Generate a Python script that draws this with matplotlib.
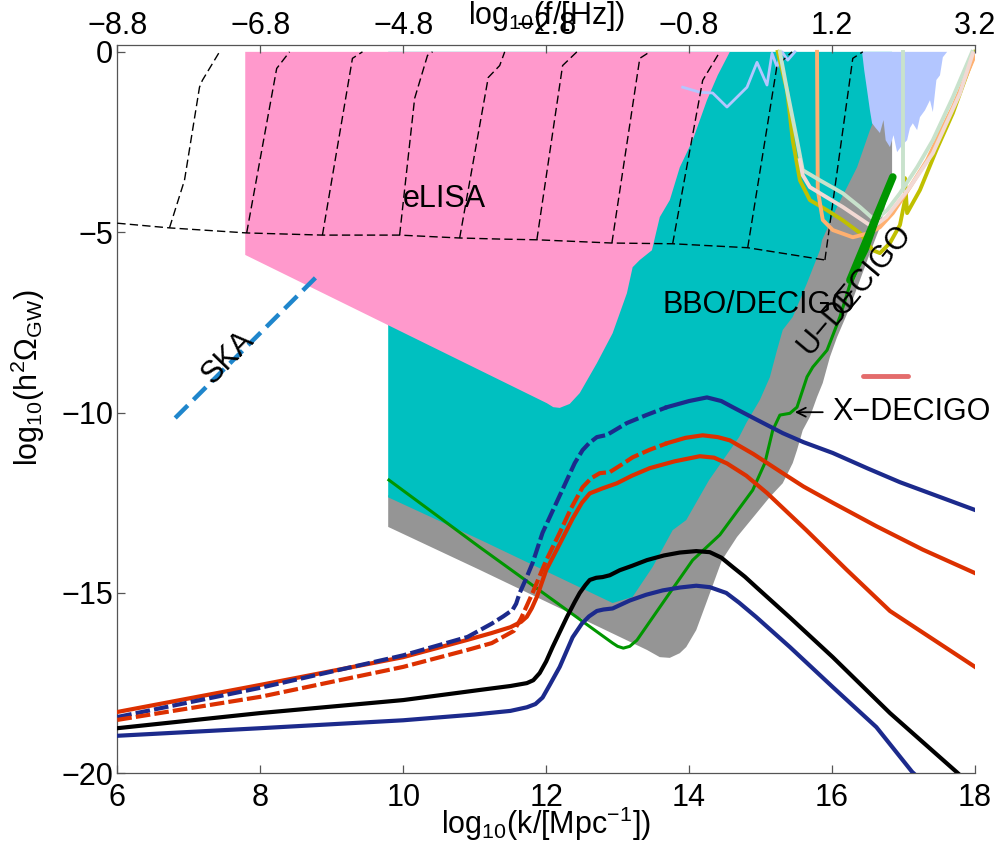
import numpy as np
import matplotlib
matplotlib.use('Agg')
import matplotlib.pyplot as plt
from matplotlib.patches import Polygon

plt.rcParams['font.family'] = ['Liberation Sans', 'DejaVu Sans']
plt.rcParams['mathtext.fontset'] = 'custom'
plt.rcParams['mathtext.rm'] = 'Liberation Sans'
plt.rcParams['mathtext.it'] = 'Liberation Sans'
plt.rcParams['mathtext.default'] = 'regular'
plt.rcParams['axes.unicode_minus'] = True

# ---------------- data ----------------
k_ticks = [6, 8, 10, 12, 14, 16, 18]
y_ticks = [0, -5, -10, -15, -20]
f_tick_labels = [-8.8, -6.8, -4.8, -2.8, -0.8, 1.2, 3.2]

# eLISA region
elisa_k = [7.79, 7.79, 12.01, 12.10, 12.19, 12.33, 12.47, 12.71, 12.93, 13.13, 13.21, 13.31,
           13.48, 13.59, 13.73, 13.87, 14.05, 14.25, 14.40, 14.57]
elisa_y = [0.0, -5.63, -9.74, -9.85, -9.87, -9.76, -9.46, -8.63, -7.80, -6.69, -5.97, -5.77,
           -5.50, -4.58, -4.11, -3.20, -2.45, -1.34, -0.65, 0.0]

# BBO/DECIGO region
bbo_k = [9.79, 9.79, 11.08, 12.93, 13.21, 13.49, 13.77, 13.96, 14.28, 14.70, 14.80, 14.99, 15.13,
         15.23, 15.31, 15.45, 15.65, 15.83, 15.86, 16.07, 16.35, 16.53, 16.84, 16.84]
bbo_y = [0.0, -12.35, -13.53, -15.28, -15.11, -14.28, -13.26, -12.98, -11.87, -10.68, -10.29, -9.65,
         -9.02, -8.27, -7.71, -7.35, -6.41, -5.50, -5.22, -4.30, -3.20, -2.17, -0.65, 0.0]

# U-DECIGO region
udecigo_k = [9.79, 9.79, 11.08, 13.41, 13.59, 13.73, 13.87, 13.96, 14.10, 14.24, 14.46, 14.67, 14.89,
             15.13, 15.31, 15.45, 15.51, 15.59, 15.69, 15.79, 15.87, 15.97, 16.07, 16.25, 16.39,
             16.53, 16.67, 16.84, 16.84]
udecigo_y = [-12.30, -13.17, -14.37, -16.58, -16.78, -16.80, -16.67, -16.50, -16.03, -15.28, -14.09,
             -13.45, -12.92, -12.34, -11.96, -11.40, -11.04, -10.49, -10.12, -9.57, -9.18, -8.46,
             -7.91, -7.08, -6.33, -5.58, -4.86, -3.47, -0.65]

# dashed contours
contour_h_k = [6.00, 6.73, 7.81, 8.87, 9.95, 10.79, 11.35, 11.87, 12.92, 13.77, 14.82, 15.90]
contour_h_y = [-4.75, -4.88, -5.02, -5.08, -5.08, -5.16, -5.19, -5.21, -5.30, -5.32, -5.43, -5.77]
contour_v_k = [[6.73, 6.94, 7.15, 7.19, 7.43], [7.81, 8.23, 8.41], [8.87, 9.29, 9.43],
               [9.95, 10.16, 10.34, 10.41], [10.79, 11.19, 11.35, 11.42], [11.87, 12.23, 12.43],
               [12.92, 13.31, 13.45], [13.77, 14.19, 14.43], [14.82, 15.23, 15.44],
               [15.90, 16.29, 16.43]]
contour_v_y = [[-4.88, -3.56, -0.98, -0.79, 0.0], [-5.02, -0.46, 0.0], [-5.08, -0.18, 0.0],
               [-5.08, -1.29, -0.10, 0.0], [-5.16, -0.71, -0.38, 0.0], [-5.21, -0.38, 0.0],
               [-5.30, -0.18, 0.0], [-5.32, -0.79, 0.0], [-5.43, -0.38, 0.0],
               [-5.77, -0.18, 0.0]]

# lavender ground-based noise
lav_line_k = [13.91, 14.15, 14.33, 14.53, 14.81, 14.95, 15.09, 15.16, 15.23, 15.30, 15.38, 15.48]
lav_line_y = [-0.98, -1.12, -1.14, -1.53, -0.98, -0.29, -0.92, -0.04, -0.42, 0.0, -0.23, 0.0]
lav_fill_k = [16.42, 16.45, 16.49, 16.53, 16.56, 16.61, 16.67, 16.72, 16.75, 16.81, 16.86, 16.91,
              16.98, 17.05, 17.09, 17.13, 17.19, 17.23, 17.30, 17.37, 17.41, 17.46, 17.51, 17.55, 17.61]
lav_fill_y = [0.0, -0.51, -1.06, -1.62, -1.98, -2.11, -2.25, -1.89, -2.45, -2.64, -2.31, -2.78,
              -2.59, -2.45, -2.11, -1.98, -2.17, -1.81, -1.62, -1.34, -1.67, -0.78, -0.65, -0.15, 0.0]

# other sensitivity curves
olive_k = [15.24, 15.37, 15.45, 15.55, 15.69, 15.93, 16.15, 16.39, 16.57, 16.67, 16.81, 16.95,
           17.02, 17.02, 17.05, 17.23, 17.46, 17.69, 18.0]
olive_y = [0.0, -1.06, -2.45, -3.56, -4.11, -4.39, -4.67, -5.02, -5.50, -5.58, -5.30, -4.80,
           -4.11, -3.50, -4.47, -3.83, -2.72, -1.70, 0.0]
orange_k = [15.79, 15.80, 15.87, 16.01, 16.29, 16.53, 16.67, 16.85, 17.09, 17.33, 17.51, 17.69, 18.0]
orange_y = [0.0, -3.83, -4.66, -4.94, -5.14, -5.02, -4.86, -4.47, -3.75, -3.00, -2.25, -1.53, -0.09]
mint_k = [15.27, 15.37, 15.51, 15.59, 15.83, 16.15, 16.39, 16.60, 16.77, 16.95, 17.19, 17.41, 17.69, 17.96]
mint_y = [0.0, -1.06, -2.45, -3.28, -3.56, -3.92, -4.30, -4.67, -4.39, -3.92, -3.20, -2.45, -1.26, 0.0]
mint_v_k = [16.99, 16.99]
mint_v_y = [0.0, -3.83]
pale_k = [15.55, 15.59, 15.69, 16.15, 16.57, 16.76, 17.09, 17.41, 17.79, 17.97]
pale_y = [-3.00, -3.42, -3.75, -4.30, -4.86, -4.58, -3.75, -2.81, -1.15, -0.04]

# X-DECIGO (green)
xdec_k = [9.80, 11.07, 12.93, 13.00, 13.08, 13.17, 13.27, 13.69, 14.05, 14.43, 14.89, 15.06, 15.17,
          15.27, 15.41, 15.51, 15.59, 15.65, 15.73, 15.93, 16.11, 16.25, 16.49, 16.85]
xdec_y = [-11.87, -13.73, -16.39, -16.48, -16.53, -16.48, -16.31, -15.11, -14.09, -13.39, -12.15,
          -11.40, -10.49, -10.07, -10.02, -9.85, -9.37, -9.01, -8.74, -8.27, -7.35, -6.45, -5.50, -3.48]
xdec_thick_k = [16.25, 16.85]
xdec_thick_y = [-6.33, -3.47]

# SKA
ska_k = [6.81, 8.81]
ska_y = [-10.15, -6.19]
# red marker segment
red_seg_k = [16.43, 17.06]
red_seg_y = [-8.99, -8.99]

# model spectra
blue_lo_k = [6.0, 8.0, 10.0, 11.0, 11.5, 11.73, 11.85, 11.95, 12.05, 12.19, 12.37, 12.50, 12.60,
             12.71, 12.80, 12.93, 13.17, 13.40, 13.63, 13.87, 14.10, 14.29, 14.52, 14.70, 14.94,
             15.41, 16.01, 16.62, 17.12, 17.25]
blue_lo_y = [-18.96, -18.75, -18.53, -18.37, -18.27, -18.17, -18.08, -17.90, -17.55, -17.05, -16.23,
             -15.85, -15.65, -15.50, -15.46, -15.43, -15.21, -15.05, -14.93, -14.85, -14.80, -14.84,
             -15.00, -15.27, -15.67, -16.50, -17.61, -18.72, -19.96, -20.20]
black_k = [6.0, 8.0, 10.0, 11.07, 11.50, 11.73, 11.82, 11.91, 12.00, 12.09, 12.29, 12.40, 12.47,
           12.55, 12.61, 12.70, 12.79, 12.89, 13.03, 13.20, 13.41, 13.65, 13.87, 14.10, 14.29,
           14.45, 14.61, 14.78, 14.94, 15.41, 16.01, 16.81, 17.74, 17.90]
black_y = [-18.75, -18.33, -17.97, -17.69, -17.58, -17.50, -17.42, -17.22, -16.90, -16.50, -15.67,
           -15.25, -15.00, -14.78, -14.64, -14.58, -14.56, -14.51, -14.37, -14.25, -14.09, -13.96,
           -13.88, -13.84, -13.87, -14.02, -14.28, -14.55, -14.84, -15.68, -16.78, -18.33, -19.96,
           -20.25]
blue_hi_k = [6.0, 8.0, 10.0, 10.9, 11.24, 11.40, 11.53, 11.58, 11.63, 11.72, 11.81, 11.95, 12.12,
             12.29, 12.40, 12.51, 12.60, 12.71, 12.85, 13.13, 13.40, 13.69, 14.00, 14.25, 14.45,
             14.61, 14.90, 15.31, 15.60, 16.01, 16.50, 16.95, 18.0]
blue_hi_y = [-18.44, -17.63, -16.73, -16.22, -15.85, -15.65, -15.47, -15.30, -15.00, -14.60, -14.17,
             -13.33, -12.60, -11.87, -11.40, -11.04, -10.85, -10.68, -10.62, -10.29, -10.07, -9.85,
             -9.68, -9.58, -9.68, -9.85, -10.15, -10.57, -10.82, -11.12, -11.55, -11.93, -12.70]
red_hi_k = [6.0, 8.0, 10.0, 10.9, 11.24, 11.55, 11.65, 11.73, 11.81, 12.00, 12.19, 12.35, 12.51,
            12.63, 12.75, 12.89, 13.05, 13.21, 13.45, 13.69, 13.95, 14.19, 14.40, 14.57, 14.90,
            15.31, 15.60, 16.01, 16.62, 17.27, 18.0]
red_hi_y = [-18.52, -17.88, -17.05, -16.58, -16.39, -16.05, -15.70, -15.35, -15.00, -14.10, -13.33,
            -12.65, -12.07, -11.82, -11.68, -11.65, -11.45, -11.24, -11.03, -10.85, -10.70, -10.63,
            -10.68, -10.77, -11.15, -11.68, -12.05, -12.50, -13.15, -13.80, -14.45]
red_lo_k = [6.0, 8.0, 10.0, 10.9, 11.24, 11.50, 11.65, 11.73, 11.80, 11.87, 12.00, 12.19, 12.37,
            12.50, 12.61, 12.79, 12.99, 13.20, 13.45, 13.80, 14.15, 14.35, 14.53, 14.80, 15.09,
            15.64, 16.20, 16.81, 18.0]
red_lo_y = [-18.30, -17.55, -16.78, -16.30, -16.11, -15.95, -15.80, -15.66, -15.42, -15.11, -14.37,
            -13.64, -12.94, -12.50, -12.24, -12.10, -11.96, -11.75, -11.54, -11.35, -11.21, -11.25,
            -11.41, -11.75, -12.23, -13.26, -14.35, -15.50, -17.05]
dash_end_k = 13.69

# ---------------- colours ----------------
c_pink = '#FF99CC'
c_teal = '#00C0C0'
c_gray = '#959595'
c_lav = '#B3C6FF'
c_navy = '#1C2A8C'
c_red = '#DC3000'
c_green = '#009600'
c_olive = '#C0C000'
c_orange = '#FFB070'
c_mint = '#C8E2CC'
c_pale = '#F2D9D4'
c_ska = '#1F86CC'

# ---------------- figure ----------------
fig = plt.figure(figsize=(10.01, 8.47), dpi=100)
ax = fig.add_axes([117.3 / 1001, 1 - 773.3 / 847, (975 - 117.3) / 1001, (773.3 - 45) / 847])
ax.set_xlim(6, 18)
ax.set_ylim(-20, 0.19)

ax.add_patch(Polygon(np.column_stack([udecigo_k, udecigo_y]), closed=True, fc=c_gray, ec='none', zorder=1))
ax.add_patch(Polygon(np.column_stack([bbo_k, bbo_y]), closed=True, fc=c_teal, ec='none', zorder=2))
ax.add_patch(Polygon(np.column_stack([elisa_k, elisa_y]), closed=True, fc=c_pink, ec='none', zorder=3))
ax.add_patch(Polygon(np.column_stack([lav_fill_k, lav_fill_y]), closed=True, fc=c_lav, ec='none', zorder=4))
ax.plot(lav_line_k, lav_line_y, color=c_lav, lw=2.0, zorder=4)

dash_kw = dict(color='k', lw=1.0, dashes=(6, 3), zorder=5)
ax.plot(contour_h_k, contour_h_y, **dash_kw)
for kk, yy in zip(contour_v_k, contour_v_y):
    ax.plot(kk, yy, **dash_kw)

ax.plot(olive_k, olive_y, color=c_olive, lw=2.8, zorder=6)
ax.plot(orange_k, orange_y, color=c_orange, lw=2.8, zorder=6)
ax.plot(mint_k, mint_y, color=c_mint, lw=2.8, zorder=6)
ax.plot(mint_v_k, mint_v_y, color=c_mint, lw=2.8, zorder=6)
ax.plot(pale_k, pale_y, color=c_pale, lw=2.8, zorder=6)

ax.plot(xdec_k, xdec_y, color=c_green, lw=2.2, zorder=7)
ax.plot(xdec_thick_k, xdec_thick_y, color=c_green, lw=5.5, solid_capstyle='round', zorder=7)

ax.plot(ska_k, ska_y, color=c_ska, lw=3.2, dashes=(4, 1.8), zorder=7)
ax.plot(red_seg_k, red_seg_y, color='#E46C6C', lw=3.5, solid_capstyle='round', zorder=7)

lw_m = 3.0
ax.plot(blue_lo_k, blue_lo_y, color=c_navy, lw=lw_m, zorder=8)
ax.plot(black_k, black_y, color='k', lw=lw_m, zorder=8)
ax.plot(red_lo_k, red_lo_y, color=c_red, lw=lw_m, zorder=8)
for kk, yy, cc in [(blue_hi_k, blue_hi_y, c_navy), (red_hi_k, red_hi_y, c_red)]:
    kk = np.asarray(kk)
    yy = np.asarray(yy)
    m1 = kk <= dash_end_k
    m2 = kk >= dash_end_k
    ax.plot(kk[m1], yy[m1], color=cc, lw=lw_m, dashes=(3.5, 1.0), zorder=8)
    ax.plot(kk[m2], yy[m2], color=cc, lw=lw_m, zorder=8)

fs = 22
ax.text(10.58, -4.30, 'eLISA', fontsize=fs, ha='center', va='baseline', zorder=10)
ax.text(13.63, -7.24, 'BBO/DECIGO', fontsize=fs, ha='left', va='baseline', zorder=10)
ax.text(16.32, -6.6, 'U\u2212DECIGO', fontsize=fs, ha='center', va='center', rotation=50,
        rotation_mode='anchor', zorder=10)
ax.text(7.55, -8.46, 'SKA', fontsize=fs, ha='center', va='center', rotation=46,
        rotation_mode='anchor', zorder=10)
ax.annotate('', xy=(15.48, -9.99), xytext=(15.87, -9.99),
            arrowprops=dict(arrowstyle='->', lw=1.3, color='k', shrinkA=0, shrinkB=0,
                            mutation_scale=16), zorder=10)
ax.text(16.01, -10.21, 'X\u2212DECIGO', fontsize=fs, ha='left', va='baseline', zorder=10,
        clip_on=False)

# axes styling
spine_c = '#555555'
for s in ['left', 'bottom', 'top']:
    ax.spines[s].set_color(spine_c)
    ax.spines[s].set_linewidth(0.9)
ax.spines['right'].set_visible(False)
ax.set_xticks(k_ticks)
ax.set_xticklabels([str(v) for v in k_ticks])
ax.set_yticks(y_ticks)
ax.set_yticklabels([str(v).replace('-', '\u2212') for v in y_ticks])
ax.tick_params(axis='both', direction='in', length=6, width=0.9, color=spine_c, labelsize=fs)
ax.tick_params(axis='x', pad=7)
ax.tick_params(axis='y', pad=3)

ax2 = ax.twiny()
ax2.set_xlim(ax.get_xlim())
ax2.set_xticks(k_ticks)
ax2.set_xticklabels([('%.1f' % v).replace('-', '\u2212') for v in f_tick_labels])
ax2.tick_params(axis='x', direction='in', length=6, width=0.9, color=spine_c, labelsize=fs, pad=3)
for s in ['left', 'bottom', 'top', 'right']:
    ax2.spines[s].set_visible(False)

ax.set_xlabel('log$_{10}$(k/[Mpc$^{-1}$])', fontsize=fs, labelpad=-6)
ax.set_ylabel('log$_{10}$(h$^2$\u03a9$_{GW}$)', fontsize=fs)
ax.yaxis.set_label_coords(-0.082, 0.543)
fig.text(547 / 1001, 1 - 24 / 847, 'log$_{10}$(f/[Hz])', fontsize=fs, ha='center', va='baseline')

fig.savefig('out.png', dpi=100)
